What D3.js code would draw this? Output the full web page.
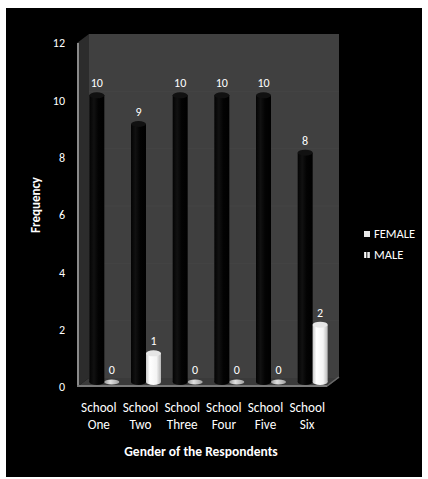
<!DOCTYPE html>
<html>
<head>
<meta charset="utf-8">
<script src="https://cdn.jsdelivr.net/npm/d3@7"></script>
<style>
  html, body { margin: 0; padding: 0; background: #fff; }
  svg { display: block; }
  text { font-family: Carlito, Lato, "Open Sans", sans-serif; fill: #fff; }
</style>
</head>
<body>
<script>
// Respondents per school, split by gender
const categories = ["School One", "School Two", "School Three", "School Four", "School Five", "School Six"];
const femaleValues = [10, 9, 10, 10, 10, 8];
const maleValues = [0, 1, 0, 0, 0, 2];
const yTickValues = [0, 2, 4, 6, 8, 10, 12];
const seriesNames = ["FEMALE", "MALE"];

const W = 428, H = 479;
const svg = d3.select("body").append("svg").attr("width", W).attr("height", H);

// black chart frame
svg.append("rect").attr("x", 0).attr("y", 0).attr("width", W).attr("height", H).attr("fill", "#fff");
svg.append("rect").attr("x", 6).attr("y", 8).attr("width", W - 12).attr("height", H - 10).attr("fill", "#000");

const x0 = 77, x1 = 327;
const depthX = 12, depthY = -9;
const x = d3.scaleBand().domain(categories).range([x0, x1]);
const y = d3.scaleLinear().domain([0, 12]).range([387, 43]);

const defs = svg.append("defs");
function hGrad(id, stops) {
  const g = defs.append("linearGradient").attr("id", id).attr("x1", "0").attr("x2", "1").attr("y1", "0").attr("y2", "0");
  stops.forEach(([o, c]) => g.append("stop").attr("offset", o).attr("stop-color", c));
}
hGrad("gFemale", [[0, "#030303"], [0.3, "#111"], [0.6, "#030303"], [1, "#000"]]);
hGrad("gMale", [[0, "#c8c8c8"], [0.25, "#ffffff"], [0.7, "#f4f4f4"], [1, "#b8b8b8"]]);
hGrad("gZero", [[0, "#9a9a9a"], [0.4, "#e0e0e0"], [1, "#a0a0a0"]]);

// back wall
svg.append("rect")
  .attr("x", x0 + depthX).attr("y", y(12) + depthY)
  .attr("width", x1 - x0).attr("height", y(0) - y(12))
  .attr("fill", "#404040");

// faint gridlines on the back wall
svg.append("g").selectAll("line").data(yTickValues.slice(1, -1)).join("line")
  .attr("x1", x0 + depthX).attr("x2", x1 + depthX)
  .attr("y1", d => y(d) + depthY).attr("y2", d => y(d) + depthY)
  .attr("stroke", "#444").attr("stroke-width", 1);

// left side wall
svg.append("polygon")
  .attr("points", [[x0, y(0)], [x0, y(12)], [x0 + depthX, y(12) + depthY], [x0 + depthX, y(0) + depthY]].join(" "))
  .attr("fill", "#2c2c2c");
svg.append("line").attr("x1", x0 + 1).attr("x2", x0 + 1).attr("y1", y(12)).attr("y2", y(0))
  .attr("stroke", "#8a8a8a").attr("stroke-width", 2);

// floor
svg.append("polygon")
  .attr("points", [[x0, y(0)], [x1, y(0)], [x1 + depthX, y(0) + depthY], [x0 + depthX, y(0) + depthY]].join(" "))
  .attr("fill", "#3a3a3a");
svg.append("line").attr("x1", x0).attr("x2", x1).attr("y1", y(0) - 1).attr("y2", y(0) - 1)
  .attr("stroke", "#7a7a7a").attr("stroke-width", 2);
svg.append("line").attr("x1", x1).attr("x2", x1 + depthX).attr("y1", y(0) - 1).attr("y2", y(0) - 1 + depthY)
  .attr("stroke", "#6a6a6a").attr("stroke-width", 1.5);

// cylinders
const barW = 15, rY = 3, lift = -5;
function cylinders(values, offset, fill, topFill, cls) {
  const g = svg.append("g").attr("class", cls);
  const data = values.map((v, i) => ({ v, c: categories[i] }));
  const cx = d => x(d.c) + x.bandwidth() / 2 + offset;
  const nonZero = data.filter(d => d.v > 0);
  g.selectAll("ellipse.base").data(nonZero).join("ellipse")
    .attr("cx", cx).attr("cy", y(0) + lift).attr("rx", barW / 2).attr("ry", rY).attr("fill", fill);
  g.selectAll("rect").data(nonZero).join("rect")
    .attr("x", d => cx(d) - barW / 2).attr("y", d => y(d.v) + lift)
    .attr("width", barW).attr("height", d => y(0) - y(d.v)).attr("fill", fill);
  g.selectAll("ellipse.top").data(nonZero).join("ellipse")
    .attr("cx", cx).attr("cy", d => y(d.v) + lift).attr("rx", barW / 2).attr("ry", rY).attr("fill", topFill);
  // flat discs for zero values
  g.selectAll("ellipse.zero").data(data.filter(d => d.v === 0)).join("ellipse")
    .attr("cx", cx).attr("cy", y(0) + lift).attr("rx", barW / 2).attr("ry", 2.5).attr("fill", "url(#gZero)");
  // value labels
  g.selectAll("text").data(data).join("text")
    .attr("x", cx).attr("y", d => y(d.v) + lift - 8)
    .attr("text-anchor", "middle").attr("font-size", 12).text(d => d.v);
}
cylinders(femaleValues, -1, "url(#gFemale)", "#111", "female");
cylinders(maleValues, 14, "url(#gMale)", "#e6e6e6", "male");

// y axis
const yAxis = svg.append("g").attr("transform", `translate(${x0},0)`)
  .call(d3.axisLeft(y).tickValues(yTickValues).tickSize(0).tickPadding(12));
yAxis.select(".domain").remove();
yAxis.selectAll("text").attr("font-size", 12).attr("fill", "#fff")
  .style("font-family", "Carlito, Lato, 'Open Sans', sans-serif");

// category labels (two lines)
const catG = svg.append("g");
categories.forEach(c => {
  const parts = c.split(" ");
  const cx = x(c) + x.bandwidth() / 2 + 1;
  const t = catG.append("text").attr("x", cx).attr("y", 412)
    .attr("text-anchor", "middle").attr("font-size", 13.2);
  t.append("tspan").attr("x", cx).text(parts[0]);
  t.append("tspan").attr("x", cx).attr("dy", 17).text(parts[1]);
});

// axis titles
svg.append("text").attr("x", 201).attr("y", 456).attr("text-anchor", "middle")
  .attr("font-size", 13.5).attr("font-weight", "bold").text("Gender of the Respondents");
svg.append("text").attr("transform", "translate(40,205) rotate(-90)").attr("text-anchor", "middle")
  .attr("font-size", 13).attr("font-weight", "bold").text("Frequency");

// legend
const legend = svg.append("g");
seriesNames.forEach((name, i) => {
  const ly = 238 + i * 21;
  if (i === 0) {
    legend.append("rect").attr("x", 364).attr("y", ly - 7).attr("width", 6).attr("height", 6).attr("fill", "#e8e8e8");
  } else {
    legend.append("rect").attr("x", 364).attr("y", ly - 7).attr("width", 6).attr("height", 6).attr("fill", "url(#gMale)");
    legend.append("rect").attr("x", 366).attr("y", ly - 7).attr("width", 1.5).attr("height", 6).attr("fill", "#555");
  }
  legend.append("text").attr("x", 374).attr("y", ly).attr("font-size", 12.5).text(name);
});
</script>
</body>
</html>
